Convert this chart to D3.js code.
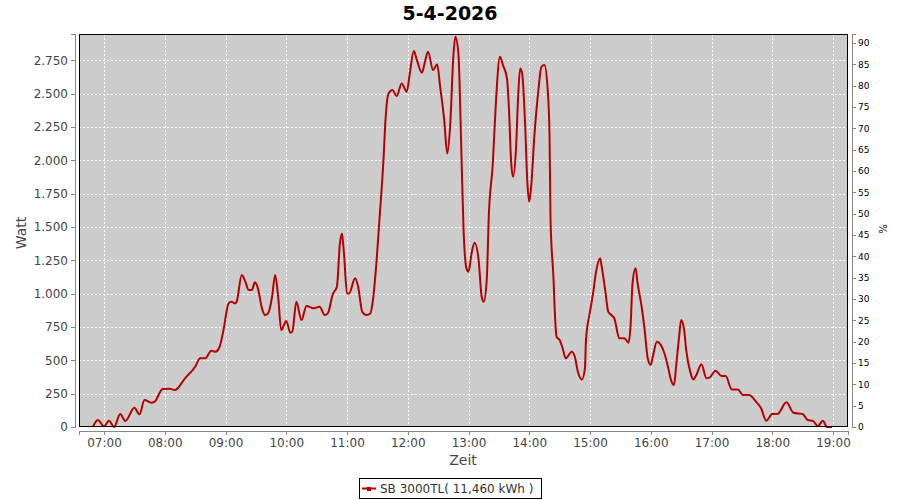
<!DOCTYPE html>
<html>
<head>
<meta charset="utf-8">
<script src="https://cdn.jsdelivr.net/npm/d3@7"></script>
<style>
    body { margin: 0; background: #fff; }
    text { font-family: "DejaVu Sans", sans-serif; }
</style>
</head>
<body>
<div id="chart-container"></div>
<script>
// Data
const title = '5-4-2026';
const seriesName = 'SB 3000TL( 11,460 kWh )';
const times = ['06:49', '06:54', '07:00', '07:05', '07:10', '07:16', '07:21', '07:30', '07:35', '07:40',
    '07:47', '07:50', '07:58', '08:05', '08:10', '08:20', '08:30', '08:35', '08:40', '08:46',
    '08:50', '08:54', '08:58', '09:03', '09:06', '09:09', '09:11', '09:16', '09:19', '09:23',
    '09:26', '09:29', '09:32', '09:36', '09:39', '09:42', '09:46', '09:49', '09:52', '09:55',
    '10:00', '10:04', '10:06', '10:10', '10:15', '10:20', '10:27', '10:33', '10:38', '10:41',
    '10:46', '10:50', '10:53', '10:55', '10:57', '11:00', '11:02', '11:08', '11:11', '11:15',
    '11:19', '11:23', '11:26', '11:29', '11:32', '11:36', '11:38', '11:41', '11:45', '11:49',
    '11:54', '11:59', '12:02', '12:06', '12:09', '12:14', '12:17', '12:20', '12:25', '12:29',
    '12:32', '12:36', '12:39', '12:42', '12:45', '12:47', '12:50', '12:53', '12:55', '12:58',
    '13:00', '13:03', '13:06', '13:10', '13:13', '13:15', '13:18', '13:20', '13:24', '13:27',
    '13:31', '13:34', '13:38', '13:40', '13:42', '13:44', '13:47', '13:49', '13:51', '13:53',
    '13:56', '13:58', '14:00', '14:02', '14:05', '14:09', '14:12', '14:15', '14:18', '14:20',
    '14:21', '14:24', '14:25', '14:27', '14:30', '14:33', '14:36', '14:42', '14:45', '14:48',
    '14:52', '14:55', '14:56', '15:00', '15:03', '15:06', '15:10', '15:11', '15:15', '15:18',
    '15:21', '15:24', '15:29', '15:34', '15:38', '15:40', '15:42', '15:45', '15:47', '15:51',
    '15:54', '15:57', '16:00', '16:02', '16:06', '16:10', '16:14', '16:17', '16:20', '16:23',
    '16:25', '16:28', '16:30', '16:33', '16:35', '16:39', '16:42', '16:45', '16:50', '16:55',
    '16:58', '17:04', '17:10', '17:14', '17:20', '17:26', '17:31', '17:37', '17:44', '17:49',
    '17:54', '18:00', '18:05', '18:14', '18:21', '18:30', '18:35', '18:40', '18:45', '18:50',
    '18:54', '18:59'];
const watts = [0, 52, 5, 47, 0, 97, 45, 145, 95, 202,
    182, 190, 285, 287, 277, 365, 452, 515, 515, 572,
    565, 598, 727, 927, 940, 927, 940, 1140, 1102, 1027,
    1027, 1085, 1040, 890, 840, 852, 977, 1140, 977, 727,
    795, 707, 715, 940, 802, 907, 890, 902, 840, 852,
    997, 1052, 1377, 1452, 1302, 1002, 1002, 1115, 1052, 865,
    840, 852, 977, 1227, 1552, 2002, 2302, 2502, 2527, 2482,
    2577, 2515, 2652, 2820, 2752, 2657, 2740, 2815, 2677, 2722,
    2552, 2302, 2052, 2277, 2777, 2927, 2802, 2052, 1502, 1190,
    1165, 1302, 1382, 1252, 977, 940, 1102, 1577, 1977, 2427,
    2777, 2715, 2615, 2377, 2002, 1877, 2102, 2477, 2690, 2652,
    2252, 1852, 1690, 1815, 2177, 2527, 2702, 2715, 2552, 2202,
    1552, 1102, 902, 677, 652, 590, 515, 565, 527, 415,
    357, 440, 652, 865, 1002, 1165, 1265, 1227, 1027, 865,
    840, 815, 665, 665, 632, 752, 1077, 1190, 1077, 902,
    727, 515, 465, 527, 640, 615, 540, 452, 352, 315,
    452, 677, 802, 727, 577, 415, 357, 390, 470, 365,
    370, 422, 382, 382, 282, 282, 240, 240, 190, 140,
    47, 97, 97, 185, 107, 97, 52, 47, 7, 47,
    0, 0];
const leftTicks = [0, 250, 500, 750, 1000, 1250, 1500, 1750, 2000, 2250, 2500, 2750];
const rightTicks = [0, 5, 10, 15, 20, 25, 30, 35, 40, 45, 50, 55, 60, 65, 70, 75, 80, 85, 90];
const hourTicks = ['07:00', '08:00', '09:00', '10:00', '11:00', '12:00', '13:00',
    '14:00', '15:00', '16:00', '17:00', '18:00', '19:00'];
const timeRange = ['06:35:18', '19:14:48'];
const wattMax = 2948;
const ratedPower = 3200;

// Layout
const W = 900, H = 500;
const plot = { left: 79, top: 34, right: 848, bottom: 427 };
const lineColor = '#b40000';

const parseTime = s => d3.timeParse('%Y-%m-%d %H:%M:%S')('2026-04-05 ' + (s.length === 5 ? s + ':00' : s));
const data = times.map((t, i) => ({ date: parseTime(t), value: watts[i] }));

const svg = d3.select('#chart-container')
    .append('svg')
    .attr('width', W)
    .attr('height', H);

// Scales
const x = d3.scaleTime()
    .domain(timeRange.map(parseTime))
    .range([plot.left, plot.right]);

const y = d3.scaleLinear()
    .domain([0, wattMax])
    .range([plot.bottom, plot.top]);

const yRight = d3.scaleLinear()
    .domain([0, wattMax / ratedPower * 100])
    .range([plot.bottom, plot.top]);

const locale = d3.formatLocale({ decimal: ',', thousands: '.', grouping: [3], currency: ['', ''] });

// Plot background
svg.append('rect')
    .attr('x', plot.left)
    .attr('y', plot.top)
    .attr('width', plot.right - plot.left)
    .attr('height', plot.bottom - plot.top)
    .attr('fill', '#cccccc');

// Grid lines
const grid = svg.append('g')
    .attr('stroke', '#fff')
    .attr('stroke-dasharray', '2,2')
    .attr('shape-rendering', 'crispEdges');

grid.selectAll('.hgrid')
    .data(leftTicks.filter(d => d > 0))
    .enter()
    .append('line')
    .attr('x1', plot.left)
    .attr('x2', plot.right)
    .attr('y1', d => Math.round(y(d)) + 0.5)
    .attr('y2', d => Math.round(y(d)) + 0.5);

grid.selectAll('.vgrid')
    .data(hourTicks.map(parseTime))
    .enter()
    .append('line')
    .attr('y1', plot.top)
    .attr('y2', plot.bottom)
    .attr('x1', d => Math.round(x(d)) + 0.5)
    .attr('x2', d => Math.round(x(d)) + 0.5);

// Data line
const line = d3.line()
    .x(d => x(d.date))
    .y(d => y(d.value))
    .curve(d3.curveMonotoneX);

svg.append('path')
    .datum(data)
    .attr('fill', 'none')
    .attr('stroke', lineColor)
    .attr('stroke-width', 2)
    .attr('stroke-linejoin', 'round')
    .attr('d', line);

// Plot border
svg.append('rect')
    .attr('x', plot.left + 0.5)
    .attr('y', plot.top + 0.5)
    .attr('width', plot.right - plot.left - 1)
    .attr('height', plot.bottom - plot.top - 1)
    .attr('fill', 'none')
    .attr('stroke', '#000')
    .attr('shape-rendering', 'crispEdges');

// Axes
const styleAxis = (g, color, size) => {
    g.select('.domain').attr('stroke', '#888');
    g.selectAll('.tick line').attr('stroke', '#888');
    g.selectAll('text')
        .attr('fill', color)
        .style('font-family', '"DejaVu Sans", sans-serif')
        .style('font-size', size);
    g.attr('shape-rendering', 'crispEdges');
};

svg.append('g')
    .attr('transform', `translate(${plot.left - 4},0)`)
    .call(d3.axisLeft(y)
        .tickValues(leftTicks)
        .tickSizeOuter(0)
        .tickSize(4)
        .tickPadding(3)
        .tickFormat(locale.format(',d')))
    .call(g => styleAxis(g, '#444', '12px'));

svg.append('g')
    .attr('transform', `translate(${plot.right + 4},0)`)
    .call(d3.axisRight(yRight)
        .tickValues(rightTicks)
        .tickSizeOuter(0)
        .tickSize(4)
        .tickPadding(2))
    .call(g => styleAxis(g, '#000', '9px'));

svg.append('g')
    .attr('transform', `translate(0,${plot.bottom + 4})`)
    .call(d3.axisBottom(x)
        .tickValues(hourTicks.map(parseTime))
        .tickSizeOuter(0)
        .tickSize(4)
        .tickPadding(3)
        .tickFormat(d3.timeFormat('%H:%M')))
    .call(g => styleAxis(g, '#444', '12px'));

// Title and axis labels
svg.append('text')
    .attr('x', W / 2)
    .attr('y', 20)
    .attr('text-anchor', 'middle')
    .style('font-size', '19px')
    .style('font-weight', 'bold')
    .attr('fill', '#000')
    .text(title);

svg.append('text')
    .attr('transform', 'translate(26,233) rotate(-90)')
    .attr('text-anchor', 'middle')
    .style('font-size', '14px')
    .attr('fill', '#444')
    .text('Watt');

svg.append('text')
    .attr('x', 463)
    .attr('y', 465)
    .attr('text-anchor', 'middle')
    .style('font-size', '14px')
    .attr('fill', '#444')
    .text('Zeit');

svg.append('text')
    .attr('transform', 'translate(879,229) rotate(90)')
    .attr('text-anchor', 'middle')
    .style('font-size', '10px')
    .attr('fill', '#000')
    .text('%');

// Legend
const legend = svg.append('g')
    .attr('transform', 'translate(359,478)');

legend.append('rect')
    .attr('x', 0.5)
    .attr('y', 0.5)
    .attr('width', 182)
    .attr('height', 20)
    .attr('fill', '#fff')
    .attr('stroke', '#000')
    .attr('shape-rendering', 'crispEdges');

legend.append('line')
    .attr('x1', 3)
    .attr('x2', 17)
    .attr('y1', 10.5)
    .attr('y2', 10.5)
    .attr('stroke', lineColor)
    .attr('stroke-width', 2);

legend.append('rect')
    .attr('x', 8)
    .attr('y', 9)
    .attr('width', 4)
    .attr('height', 4)
    .attr('fill', lineColor);

legend.append('text')
    .attr('x', 21)
    .attr('y', 15)
    .style('font-size', '12px')
    .attr('fill', '#333')
    .text(seriesName);
</script>
</body>
</html>
